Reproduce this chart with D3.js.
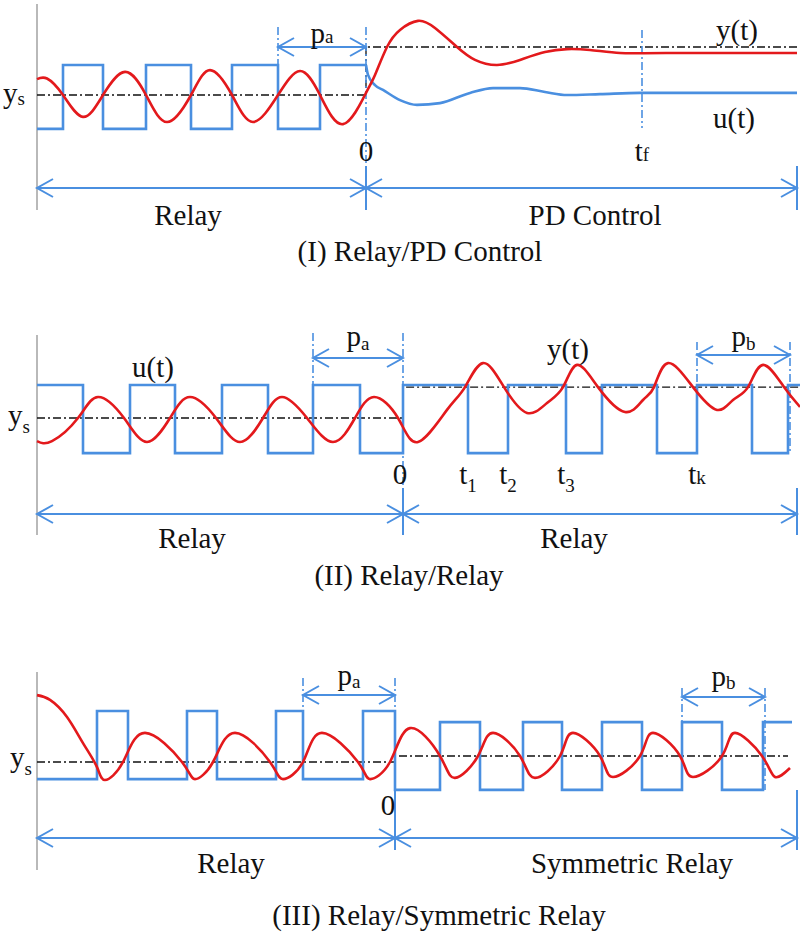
<!DOCTYPE html>
<html>
<head>
<meta charset="utf-8">
<script src="https://cdn.jsdelivr.net/npm/d3@7"></script>
<style>
  body { margin: 0; background: #fff; }
  svg { display: block; }
</style>
</head>
<body>
<div id="chart"></div>
<script>
// time is in arbitrary units with 0 at the switching instant,
// signal values are relative to y_s (relay levels, response, set point)

// ---- (I) Relay / PD control ----
const spanI = [-32.9, 43.1];
const relayTimesI = [-32.9, -30.3, -26.3, -22.0, -17.5, -13.4, -8.8, -4.6, 0];
const relayLevelsI = [-1.13, 1, -1.13, 1, -1.13, 1, -1.13, 1, 1];
const pdTimesI = [0, 0.2, 0.9, 1.7, 3.4, 5.1, 7.4, 10.4, 12.7, 15.4, 17.9, 20.1, 23.4, 27.4, 43.1];
const pdValuesI = [1.0, 0.67, 0.33, 0.17, -0.17, -0.33, -0.27, 0.07, 0.23, 0.23, 0.1, 0, 0.03, 0.07, 0.07];
const yTimesI = [-32.9, -31.9, -30.3, -28.3, -26.3, -24.1, -22.0, -19.9, -17.5, -15.6, -13.4, -11.3, -8.8, -6.6, -4.6, -2.3,
  0, 0.9, 2.1, 3.4, 5.2, 6.9, 9.1, 10.9, 13.1, 15.4, 17.9, 20.1, 22.4, 25.4, 30, 43.1];
const yValuesI = [0.53, 0.55, 0, -0.73, 0, 0.77, 0, -0.9, 0, 0.83, 0, -0.9, 0, 0.8, 0, -0.97,
  0.07, 0.67, 1.6, 2.17, 2.47, 2.23, 1.6, 1.17, 1.0, 1.17, 1.43, 1.53, 1.5, 1.4, 1.4, 1.4];
const setpointI = [0, 1.6];
const eventTimesI = [0, 27.6];
const eventNamesI = [["0", ""], ["t", "f"]];

// ---- (II) Relay / Relay ----
const spanII = [-36.6, 39.4];
const relayTimesII = [-36.6, -32, -27.3, -22.8, -18.1, -13.5, -9, -4.3, 0, 6.5, 10.5, 16.3, 19.9, 25.4, 29.4, 34.9, 38.5, 39.7];
const relayLevelsII = [1.1, -1.17, 1.1, -1.17, 1.1, -1.17, 1.1, -1.17, 1.1, -1.17, 1.1, -1.17, 1.1, -1.17, 1.1, -1.17, 1.1, 1.1];
const yTimesII = [-36.6, -35.1, -32.5, -30.5, -27.9, -25.6, -23.3, -21.3, -18.7, -16.3, -14.0, -12.1, -9.6, -7.0, -4.8, -2.9,
  -0.5, 1.5, 4.4, 6.2, 8, 10.1, 12.4, 14.4, 16.0, 17.4, 19.5, 22.2, 24, 25.1, 26.5, 29.0, 31.4, 33, 34.5, 36, 38.1, 39.7];
const yValuesII = [-0.77, -0.77, 0, 0.7, 0, -0.8, 0, 0.7, 0, -0.8, 0, 0.7, 0, -0.8, 0, 0.7,
  0, -0.8, 0.27, 1.03, 1.83, 1.03, 0.17, 0.5, 1.03, 1.77, 1.03, 0.2, 0.6, 1.03, 1.83, 1.03, 0.27, 0.6, 1.03, 1.77, 1.03, 0.37];
const setpointII = [0, 1.03];
const eventTimesII = [0, 6.5, 10.5, 16.3, 29.4];
const eventNamesII = [["0", ""], ["t", "1"], ["t", "2"], ["t", "3"], ["t", "k"]];

// ---- (III) Relay / Symmetric relay ----
const spanIII = [-35.8, 40.2];
const relayTimesIII = [-35.8, -29.8, -26.7, -20.8, -17.8, -11.9, -9.2, -3.2, 0, 4.5, 8.5, 12.8, 16.7, 20.7, 24.7, 28.7, 32.7, 36.8, 39.7];
const relayLevelsIII = [-0.57, 1.7, -0.57, 1.7, -0.57, 1.7, -0.57, 1.7, -0.93, 1.33, -0.93, 1.33, -0.93, 1.33, -0.93, 1.33, -0.93, 1.33, 1.33];
const yTimesIII = [-35.8, -34.5, -32.8, -31.2, -29.8, -29, -27.2, -25, -21.3, -20, -18.2, -16, -12.5, -11.2, -9.2, -7.3, -3.7, -2.5, -0.5,
  1.5, 4.5, 6, 8.3, 9.8, 12.5, 14, 16.5, 17.8, 20.5, 21.8, 24.5, 25.8, 28.5, 29.8, 32.7, 34, 36.7, 38, 39.5];
const yValuesIII = [2.23, 2.07, 1.5, 0.63, -0.17, -0.6, 0, 0.97, 0, -0.57, 0, 0.97, 0, -0.57, 0, 0.97, 0, -0.57, 0,
  1.13, 0.2, -0.53, 0.2, 0.97, 0.2, -0.53, 0.2, 0.97, 0.2, -0.5, 0.2, 0.97, 0.2, -0.5, 0.2, 0.97, 0.2, -0.5, -0.2];
const setpointIII = [0, 0.2];
const eventTimesIII = [0];
const eventNamesIII = [["0", ""]];

const BLUE = "#4a8fe0";
const RED = "#e3191c";
const FONT = "'Liberation Serif', 'Times New Roman', Times, serif";
const X0 = 37, X1 = 797;

const svg = d3.select("#chart").append("svg").attr("width", 800).attr("height", 932)
  .attr("font-family", FONT);

const zip = (a, b) => a.map((v, i) => [v, b[i]]);

function label(g, x, y, main, sub, anchor = "start", subDy = 4) {
  const t = g.append("text").attr("x", x).attr("y", y)
    .attr("font-family", FONT).attr("fill", "#111")
    .attr("font-size", 29).attr("text-anchor", anchor);
  t.append("tspan").text(main);
  if (sub) t.append("tspan").attr("font-size", 19).attr("dy", subDy).text(sub);
}

function hArrow(g, xa, xb, y) {
  const h = 16, w = 9;
  g.append("line").attr("x1", xa).attr("x2", xb).attr("y1", y).attr("y2", y)
    .attr("stroke", BLUE).attr("stroke-width", 2);
  g.append("path")
    .attr("d", `M${xa + h},${y - w}L${xa},${y}L${xa + h},${y + w}M${xb - h},${y - w}L${xb},${y}L${xb - h},${y + w}`)
    .attr("fill", "none").attr("stroke", BLUE).attr("stroke-width", 2);
}

function vDash(g, xv, y1, y2) {
  g.append("line").attr("x1", xv).attr("x2", xv).attr("y1", y1).attr("y2", y2)
    .attr("stroke", BLUE).attr("stroke-width", 1.6).attr("stroke-dasharray", "8,3,2,3");
}

function drawPanel(p) {
  const g = svg.append("g");
  const x = d3.scaleLinear().domain(p.span).range([X0, X1]);
  const y = d3.scaleLinear().domain([0, 1]).range([p.ysPx, p.ysPx - 30]);
  const line = d3.line().x(d => x(d[0])).y(d => y(d[1]));

  // left axis
  g.append("line").attr("x1", X0).attr("x2", X0).attr("y1", p.axisTop).attr("y2", p.axisBottom)
    .attr("stroke", "#8a8a8a").attr("stroke-width", 1.2);

  // set point (dash-dot)
  const sp = [[p.span[0], p.setpoint[0]], [0, p.setpoint[1]], [p.spEnd, p.setpoint[1]]];
  g.append("path").datum(sp).attr("d", line.curve(d3.curveStepAfter))
    .attr("fill", "none").attr("stroke", "#111").attr("stroke-width", 1.3)
    .attr("stroke-dasharray", "8,3,2,3");

  // dashed markers
  vDash(g, x(0), p.zeroTop, p.tickTop);
  p.marks.forEach(m => vDash(g, x(m.t), m.top, m.bottom));

  // relay output u(t)
  g.append("path").datum(zip(p.relayTimes, p.relayLevels))
    .attr("d", line.curve(d3.curveStepAfter))
    .attr("fill", "none").attr("stroke", BLUE).attr("stroke-width", 2.6);
  if (p.pdTimes) {
    g.append("path").datum(zip(p.pdTimes, p.pdValues))
      .attr("d", line.curve(d3.curveMonotoneX))
      .attr("fill", "none").attr("stroke", BLUE).attr("stroke-width", 2.6);
  }

  // process output y(t)
  g.append("path").datum(zip(p.yTimes, p.yValues))
    .attr("d", line.curve(d3.curveNatural))
    .attr("fill", "none").attr("stroke", RED).attr("stroke-width", 2.6);

  // period arrows
  p.periods.forEach(a => {
    hArrow(g, x(a.from), x(a.to), a.y);
    label(g, (x(a.from) + x(a.to)) / 2 + a.dx, a.y + a.dyText, "p", a.name, "middle", a.subDy);
  });

  // bottom phase arrows
  hArrow(g, X0, x(0), p.arrowY);
  hArrow(g, x(0), X1, p.arrowY);
  [x(0), X1].forEach(xv => g.append("line").attr("x1", xv).attr("x2", xv)
    .attr("y1", p.tickTop).attr("y2", p.tickBottom)
    .attr("stroke", BLUE).attr("stroke-width", 2));

  // event labels on the time line
  p.eventTimes.forEach((t, i) => {
    const ev = p.eventNames[i];
    const flat = ev[1] === "f" || ev[1] === "k";
    label(g, x(t) + (i === 0 ? p.zeroDx : 0), p.eventY, ev[0], ev[1], "middle", flat ? 0 : 8);
  });

  // y_s label
  label(g, p.ysLabel[0], p.ysLabel[1], "y", "s", "start", p.ysSubDy);

  // signal labels
  p.sigLabels.forEach(s => label(g, s.x, s.y, s.text, "", "start"));

  // phase names and title
  label(g, p.leftName[0], p.nameY, p.leftName[1], "", "middle");
  label(g, p.rightName[0], p.nameY, p.rightName[1], "", "middle");
  label(g, p.title[0], p.titleY, p.title[1], "", "middle");
}

drawPanel({
  span: spanI, setpoint: setpointI, spEnd: spanI[1],
  relayTimes: relayTimesI, relayLevels: relayLevelsI,
  pdTimes: pdTimesI, pdValues: pdValuesI,
  yTimes: yTimesI, yValues: yValuesI,
  eventTimes: eventTimesI, eventNames: eventNamesI,
  ysPx: 95, axisTop: 4, axisBottom: 210, zeroTop: 27, tickTop: 166, tickBottom: 210, arrowY: 188,
  marks: [{ t: -8.8, top: 27, bottom: 65 }, { t: 27.6, top: 30, bottom: 128 }],
  periods: [{ from: -8.8, to: 0, y: 47, name: "a", dx: 0, dyText: -4, subDy: 0 }],
  zeroDx: 0, eventY: 161,
  ysLabel: [3, 103], ysSubDy: 2,
  sigLabels: [{ x: 716, y: 40, text: "y(t)" }, { x: 713, y: 128, text: "u(t)" }],
  leftName: [188, "Relay"], rightName: [595, "PD Control"], nameY: 225,
  title: [420, "(I) Relay/PD Control"], titleY: 261
});

drawPanel({
  span: spanII, setpoint: setpointII, spEnd: 39.7,
  relayTimes: relayTimesII, relayLevels: relayLevelsII,
  yTimes: yTimesII, yValues: yValuesII,
  eventTimes: eventTimesII, eventNames: eventNamesII,
  ysPx: 418, axisTop: 335, axisBottom: 535, zeroTop: 333, tickTop: 488, tickBottom: 535, arrowY: 514,
  marks: [{ t: -9, top: 333, bottom: 385 }, { t: 29.4, top: 342, bottom: 453 }, { t: 38.7, top: 342, bottom: 453 }],
  periods: [{ from: -9, to: 0, y: 358, name: "a", dx: 0, dyText: -12, subDy: 4 },
            { from: 29.4, to: 38.7, y: 355, name: "b", dx: 0, dyText: -9, subDy: 4 }],
  zeroDx: -3, eventY: 484,
  ysLabel: [8, 425], ysSubDy: 8,
  sigLabels: [{ x: 132, y: 377, text: "u(t)" }, { x: 547, y: 359, text: "y(t)" }],
  leftName: [192, "Relay"], rightName: [574, "Relay"], nameY: 548,
  title: [409, "(II) Relay/Relay"], titleY: 585
});

drawPanel({
  span: spanIII, setpoint: setpointIII, spEnd: 39.3,
  relayTimes: relayTimesIII, relayLevels: relayLevelsIII,
  yTimes: yTimesIII, yValues: yValuesIII,
  eventTimes: eventTimesIII, eventNames: eventNamesIII,
  ysPx: 762, axisTop: 672, axisBottom: 870, zeroTop: 678, tickTop: 790, tickBottom: 850, arrowY: 838,
  marks: [{ t: -9.2, top: 678, bottom: 711 }, { t: 28.7, top: 688, bottom: 722 }, { t: 37.0, top: 688, bottom: 790 }],
  periods: [{ from: -9.2, to: 0, y: 695, name: "a", dx: 0, dyText: -10, subDy: 3 },
            { from: 28.7, to: 37.0, y: 697, name: "b", dx: 0, dyText: -11, subDy: 3 }],
  zeroDx: -7, eventY: 815,
  ysLabel: [10, 767], ysSubDy: 8,
  sigLabels: [],
  leftName: [231, "Relay"], rightName: [632, "Symmetric Relay"], nameY: 873,
  title: [439, "(III) Relay/Symmetric Relay"], titleY: 925
});
</script>
</body>
</html>
